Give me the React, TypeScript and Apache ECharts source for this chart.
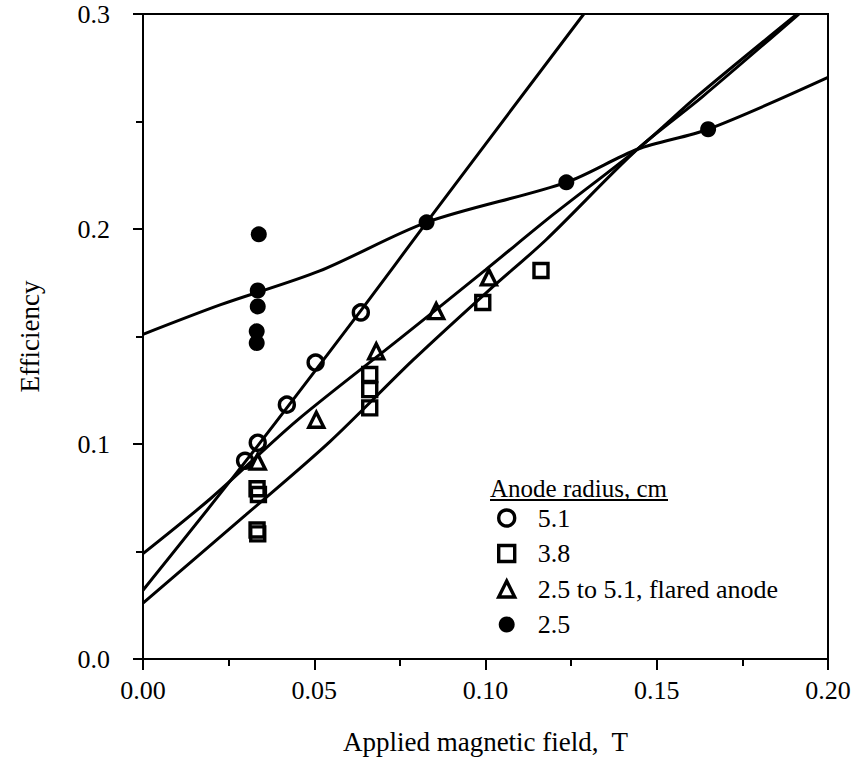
import React, { useEffect, useRef } from "react";
import * as echarts from "echarts";

// Measured points (x: applied magnetic field, T; y: efficiency)
const circleData = [[0.0298, 0.0922], [0.0335, 0.1006], [0.042, 0.1183], [0.0504, 0.1379], [0.0636, 0.1612]];
const squareData = [
  [0.0333, 0.0792], [0.0337, 0.0765], [0.0333, 0.06], [0.0335, 0.0582],
  [0.0662, 0.1323], [0.0662, 0.1253], [0.0662, 0.1168], [0.0992, 0.1658], [0.1162, 0.1807],
];
const triangleData = [[0.0335, 0.0918], [0.0506, 0.1113], [0.0681, 0.1431], [0.0856, 0.1618], [0.101, 0.1775]];
const filledData = [
  [0.0338, 0.1975], [0.0335, 0.1714], [0.0335, 0.164], [0.0332, 0.1524], [0.0332, 0.147],
  [0.0828, 0.2031], [0.1236, 0.2217], [0.165, 0.2464],
];

// Fitted curves
const circleFit = [[0, 0.032], [0.03, 0.092], [0.0636, 0.162], [0.0828, 0.2031], [0.1287, 0.3]];
const triangleFit = [[0, 0.049], [0.02, 0.075], [0.045, 0.111], [0.075, 0.149], [0.1, 0.181], [0.12, 0.207], [0.145, 0.238], [0.162, 0.262], [0.191, 0.3]];
const squareFit = [[0, 0.026], [0.03, 0.067], [0.0545, 0.101], [0.0788, 0.139], [0.101, 0.1715], [0.1177, 0.195], [0.1443, 0.237], [0.1633, 0.2615], [0.1915, 0.3]];
const filledFit = [[0, 0.151], [0.0227, 0.1648], [0.0516, 0.1805], [0.0828, 0.2031], [0.1236, 0.2217], [0.1444, 0.2371], [0.165, 0.2464], [0.2, 0.2705]];

const legendNames = ["5.1", "3.8", "2.5 to 5.1, flared anode", "2.5"];
const xTitle = "Applied magnetic field,  T";
const yTitle = "Efficiency";
const legendTitle = "Anode radius, cm";

const FONT = "'Liberation Serif', 'DejaVu Serif', serif";

export default function App() {
  const ref = useRef<HTMLDivElement>(null);
  useEffect(() => {
    document.body.style.margin = "0";
    const chart = echarts.init(ref.current!, null, { renderer: "svg" });
    const openStyle = { color: "rgba(255,255,255,0)", borderColor: "#000", borderWidth: 3.4, opacity: 1 };
    const fitLine = (name: string, data: number[][]) => ({
      name,
      type: "line",
      data,
      showSymbol: false,
      symbol: "none",
      smooth: 0.3,
      silent: true,
      z: 1,
      lineStyle: { color: "#000", width: 3 },
    });
    chart.setOption({
      animation: false,
      backgroundColor: "#fff",
      grid: {
        left: 143, right: 28, top: 14, bottom: 106,
        show: true, borderColor: "#000", borderWidth: 2,
        containLabel: false, outerBoundsMode: "none",
      },
      xAxis: {
        type: "value", min: 0, max: 0.2, interval: 0.05,
        name: xTitle, nameLocation: "middle", nameGap: 69,
        nameTextStyle: { fontFamily: FONT, fontSize: 27, color: "#000" },
        axisLine: { show: true, lineStyle: { color: "#000", width: 2 } },
        axisTick: { show: true, length: 11, lineStyle: { color: "#000", width: 2 } },
        minorTick: { show: true, splitNumber: 2, length: 7, lineStyle: { color: "#000", width: 2 } },
        splitLine: { show: false },
        axisLabel: { fontFamily: FONT, fontSize: 26, color: "#000", margin: 18, formatter: (v: number) => v.toFixed(2) },
      },
      yAxis: {
        type: "value", min: 0, max: 0.3, interval: 0.1,
        name: yTitle, nameLocation: "middle", nameGap: 100, nameRotate: 90,
        nameTextStyle: { fontFamily: FONT, fontSize: 27, color: "#000" },
        axisLine: { show: true, lineStyle: { color: "#000", width: 2 } },
        axisTick: { show: true, length: 10, lineStyle: { color: "#000", width: 2 } },
        minorTick: { show: true, splitNumber: 2, length: 7, lineStyle: { color: "#000", width: 2 } },
        splitLine: { show: false },
        axisLabel: { fontFamily: FONT, fontSize: 26, color: "#000", margin: 33, formatter: (v: number) => v.toFixed(1) },
      },
      legend: {
        orient: "vertical", left: 497, top: 505, padding: 0,
        itemWidth: 16, itemHeight: 16, itemGap: 9.5,
        data: legendNames,
        selectedMode: false,
        itemStyle: { borderWidth: 3.4 },
        textStyle: { fontFamily: FONT, fontSize: 26, color: "#000", padding: [0, 0, 0, 18] },
      },
      graphic: [
        { type: "text", x: 490, y: 476, style: { text: legendTitle, font: `25px ${FONT}`, fill: "#000" } },
        { type: "line", shape: { x1: 490, y1: 500, x2: 668, y2: 500 }, style: { stroke: "#000", lineWidth: 1.8 } },
      ],
      series: [
        fitLine("fit-5.1", circleFit),
        fitLine("fit-3.8", squareFit),
        fitLine("fit-flared", triangleFit),
        fitLine("fit-2.5", filledFit),
        { name: legendNames[0], type: "scatter", symbol: "circle", symbolSize: 15, data: circleData, itemStyle: openStyle, z: 3 },
        { name: legendNames[1], type: "scatter", symbol: "rect", symbolSize: 14, data: squareData, itemStyle: openStyle, z: 3 },
        { name: legendNames[2], type: "scatter", symbol: "triangle", symbolSize: 15, data: triangleData, itemStyle: openStyle, z: 3 },
        { name: legendNames[3], type: "scatter", symbol: "circle", symbolSize: 16, data: filledData, itemStyle: { color: "#000", opacity: 1 }, z: 3 },
      ],
    });
    return () => chart.dispose();
  }, []);
  return <div ref={ref} style={{ width: 856, height: 765 }} />;
}
